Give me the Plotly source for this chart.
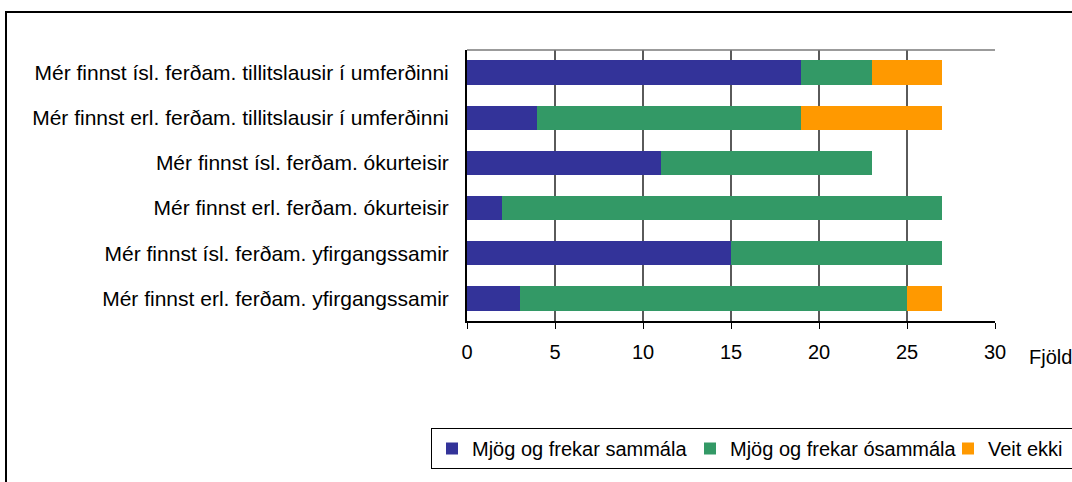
import plotly.graph_objects as go

# Survey statements, listed top to bottom
statements = [
    "Mér finnst ísl. ferðam. tillitslausir í umferðinni",
    "Mér finnst erl. ferðam. tillitslausir í umferðinni",
    "Mér finnst ísl. ferðam. ókurteisir",
    "Mér finnst erl. ferðam. ókurteisir",
    "Mér finnst ísl. ferðam. yfirgangssamir",
    "Mér finnst erl. ferðam. yfirgangssamir",
]

# Number of answers per statement
agree = [19, 4, 11, 2, 15, 3]
disagree = [4, 15, 12, 25, 12, 22]
dont_know = [4, 8, 0, 0, 0, 2]

series_names = ["Mjög og frekar sammála", "Mjög og frekar ósammála", "Veit ekki"]
series_values = [agree, disagree, dont_know]
series_colors = ["#333399", "#339966", "#FF9900"]

x_ticks = [0, 5, 10, 15, 20, 25, 30]
x_title = "Fjöldi"

FONT = "Liberation Sans, Arial, sans-serif"

W, H = 1072, 482
ML, MR, MT, MB = 467, 77, 50, 161
PW, PH = W - ML - MR, H - MT - MB


def px_x(px):
    return (px - ML) / PW


def px_y(py):
    return (H - MB - py) / PH


fig = go.Figure()
for name, vals, col in zip(series_names, series_values, series_colors):
    fig.add_trace(go.Bar(
        y=statements, x=vals, name=name, orientation="h",
        marker=dict(color=col, line=dict(width=0)),
    ))

fig.update_layout(
    width=W, height=H,
    margin=dict(l=ML, r=MR, t=MT, b=MB, autoexpand=False),
    barmode="stack", bargap=0.46,
    paper_bgcolor="white", plot_bgcolor="white",
    font=dict(family=FONT, size=20, color="black"),
    showlegend=True,
    legend=dict(
        orientation="h", x=px_x(431), y=px_y(428),
        xanchor="left", yanchor="top",
        bgcolor="white", bordercolor="black", borderwidth=1,
        font=dict(size=20), itemwidth=30,
        entrywidth=213, entrywidthmode="pixels",
        traceorder="normal", tracegroupgap=0,
    ),
    xaxis=dict(
        range=[0, 30], tickvals=x_ticks, ticks="outside", ticklen=6,
        tickcolor="black", showgrid=True, gridcolor="#5a5a5a", gridwidth=1.5,
        showline=True, linecolor="black", linewidth=2, zeroline=False,
        tickfont=dict(size=20), ticklabelstandoff=6, fixedrange=True,
    ),
    yaxis=dict(
        autorange="reversed", showline=True, linecolor="black", linewidth=2,
        ticks="", showgrid=False, tickfont=dict(size=21),
        ticklabelstandoff=12, fixedrange=True,
    ),
    shapes=[
        # outer chart frame, running past the right and bottom edges
        dict(type="rect", xref="paper", yref="paper",
             x0=px_x(6), x1=px_x(1090), y0=px_y(500), y1=px_y(12),
             line=dict(color="black", width=2), layer="below"),
        # top edge of the plot area
        dict(type="line", xref="paper", yref="paper",
             x0=0, x1=1, y0=1, y1=1,
             line=dict(color="#7a7a7a", width=1.5)),
    ],
    annotations=[
        dict(text=x_title, xref="paper", yref="paper",
             x=px_x(1027), y=px_y(357), xanchor="left", yanchor="middle",
             showarrow=False, font=dict(size=20)),
    ],
)

fig.write_html("out.html")
